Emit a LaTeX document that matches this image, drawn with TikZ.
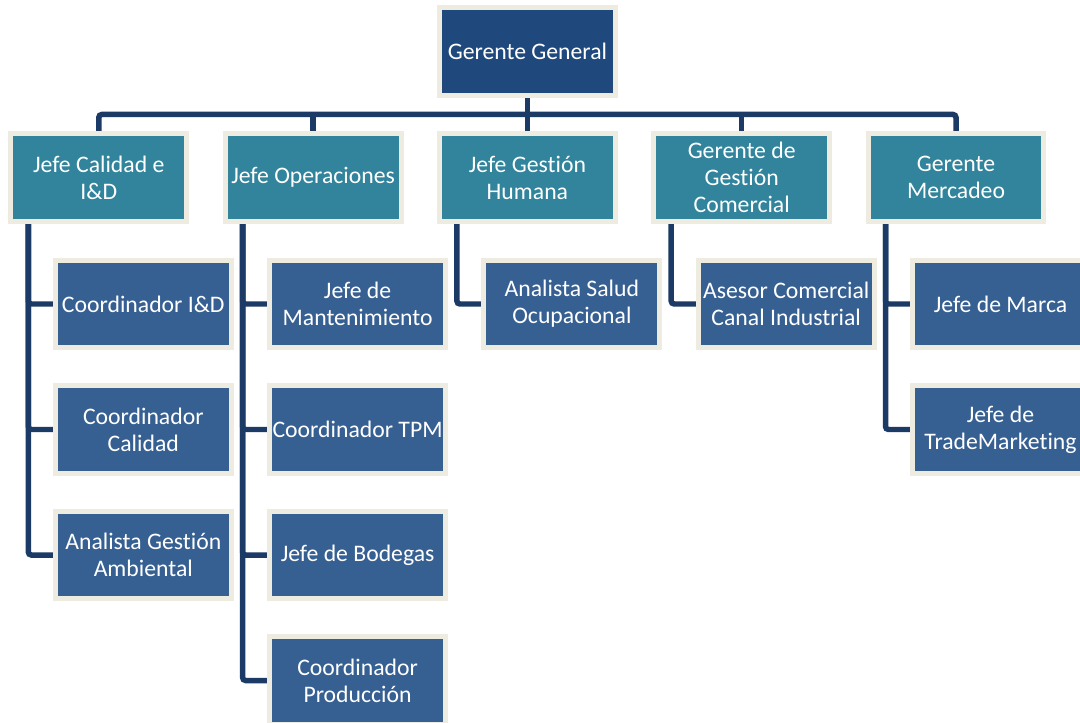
\documentclass[tikz,border=0pt]{standalone}
\usepackage{fontspec}
\setmainfont{Carlito}[Ligatures=CommonOff]
\usetikzlibrary{backgrounds}

\definecolor{topblue}{HTML}{1F497D}
\definecolor{headteal}{HTML}{31849B}
\definecolor{unitblue}{HTML}{376092}
\definecolor{rim}{HTML}{EEECE1}
\definecolor{linknavy}{HTML}{1B3A66}

\tikzset{
  unit/.style={rectangle, draw=rim, line width=0.1cm, outer sep=0pt,
    minimum width=3.52cm, minimum height=1.76cm, inner sep=0pt,
    align=center, text=white, font=\fontsize{13.5}{15.4}\selectfont},
  chief/.style={unit, fill=topblue},
  head/.style={unit, fill=headteal},
  staff/.style={unit, fill=unitblue},
  link/.style={draw=linknavy, line width=0.11cm, rounded corners=0.06cm},
}

\begin{document}
\begin{tikzpicture}[x=0.02cm, y=-0.02cm]
\useasboundingbox (0,0) rectangle (1080,723);

% top
\node[chief] (gg) at (527.4,51.5) {Gerente General};

% department heads
\node[head] (cal) at (98.8,177.5)  {Jefe Calidad e\\I\&D};
\node[head] (ope) at (313.1,177.5) {Jefe Operaciones};
\node[head] (gh)  at (527.4,177.5) {Jefe Gestión\\Humana};
\node[head] (gc)  at (741.7,177.5) {Gerente de\\Gestión\\Comercial};
\node[head] (mer) at (956,177.5)   {Gerente\\Mercadeo};

% staff under Calidad
\node[staff] (cal1) at (143.3,304)   {Coordinador I\&D};
\node[staff] (cal2) at (143.3,429.5) {Coordinador\\Calidad};
\node[staff] (cal3) at (143.3,555)   {Analista Gestión\\Ambiental};

% staff under Operaciones
\node[staff] (ope1) at (357.6,304)   {Jefe de\\Mantenimiento};
\node[staff] (ope2) at (357.6,429.5) {Coordinador TPM};
\node[staff] (ope3) at (357.6,555)   {Jefe de Bodegas};
\node[staff] (ope4) at (357.6,680.5) {Coordinador\\Producción};

% staff under Gestión Humana
\node[staff] (gh1) at (571.9,304) {Analista Salud\\Ocupacional};

% staff under Gestión Comercial
\node[staff] (gc1) at (786.2,304) {Asesor Comercial\\Canal Industrial};

% staff under Mercadeo
\node[staff] (mer1) at (1000.5,304)   {Jefe de Marca};
\node[staff] (mer2) at (1000.5,429.5) {Jefe de\\TradeMarketing};

\coordinate (bar) at (0,114.5);

\begin{scope}[on background layer]
  % main bus
  \draw[link] (gg.south) -- (gh.north);
  \draw[link] (cal.north) -- (cal.north |- bar) -- (mer.north |- bar) -- (mer.north);
  \draw[link] (ope.north) -- (ope.north |- bar);
  \draw[link] (gc.north) -- (gc.north |- bar);

  % branches to staff
  \foreach \p/\c in {cal/cal1, cal/cal2, cal/cal3,
                     ope/ope1, ope/ope2, ope/ope3, ope/ope4,
                     gh/gh1, gc/gc1, mer/mer1, mer/mer2}
    \draw[link] ([xshift=0.35cm]\p.south west) |- (\c.west);
\end{scope}
\end{tikzpicture}
\end{document}
